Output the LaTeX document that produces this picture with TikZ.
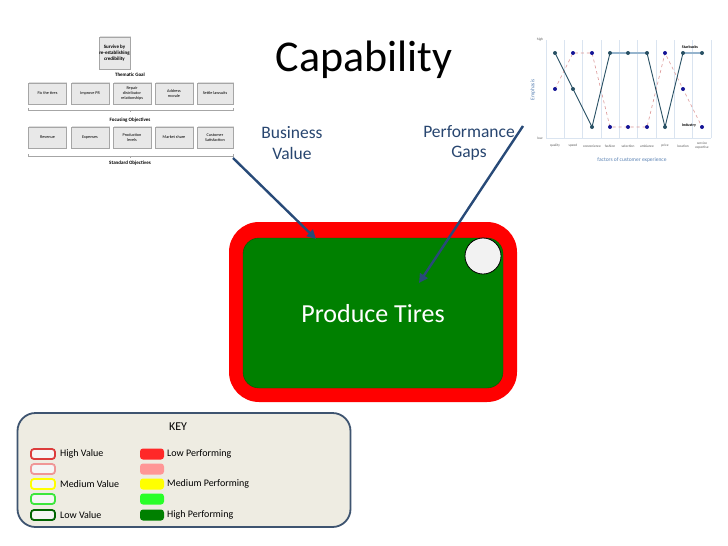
\documentclass[tikz,border=0pt]{standalone}
\usepackage{fontspec}
\setmainfont{Carlito}
\usetikzlibrary{arrows.meta,shadows}
\definecolor{arrowblue}{RGB}{40,74,120}
\definecolor{textblue}{RGB}{40,70,112}
\definecolor{keyfill}{RGB}{238,236,226}
\definecolor{keyborder}{RGB}{62,84,112}
\definecolor{dgreen}{RGB}{0,128,0}
\definecolor{chartblue}{RGB}{90,130,180}
\definecolor{gridc}{RGB}{218,228,240}
\definecolor{hlc}{RGB}{150,180,205}
\definecolor{sbline}{RGB}{40,80,100}
\definecolor{indline}{RGB}{220,150,150}
\definecolor{dotc}{RGB}{20,20,150}
\definecolor{vred}{RGB}{220,60,60}
\definecolor{vpink}{RGB}{240,150,150}
\definecolor{vyellow}{RGB}{255,255,0}
\definecolor{vlgreen}{RGB}{60,230,60}
\definecolor{vdgreen}{RGB}{0,100,0}
\definecolor{pred}{RGB}{255,40,40}
\definecolor{ppink}{RGB}{255,150,150}
\definecolor{pyellow}{RGB}{255,255,0}
\definecolor{plgreen}{RGB}{40,255,40}
\definecolor{pdgreen}{RGB}{0,128,0}
\tikzset{
  smallbox/.style={draw=gray!70, fill=gray!18, minimum width=38, minimum height=21, align=center,
    inner sep=0.5pt, font=\fontsize{4.2}{4.8}\selectfont, drop shadow={shadow xshift=0.8pt, shadow yshift=0.8pt, fill=gray!50}},
  smalllabel/.style={font=\bfseries\fontsize{5}{6}\selectfont},
  bigarrow/.style={draw=arrowblue, line width=2.4pt, -{Triangle[length=9pt,width=9pt]}},
  bluetext/.style={text=textblue, align=center, font=\fontsize{17.5}{20.5}\selectfont},
  vswatch/.style={draw=#1, line width=1.8pt, fill=gray!8, rounded corners=3pt, minimum width=24, minimum height=10, inner sep=0},
  pswatch/.style={fill=#1, rounded corners=3pt, minimum width=24, minimum height=11, inner sep=0},
  keytext/.style={anchor=west, font=\fontsize{10}{12}\selectfont, inner sep=0},
  catlabel/.style={font=\fontsize{3.5}{4}\selectfont, text=gray!70!black, align=center, inner sep=0},
  sbdot/.style={circle, fill=dotc, inner sep=0, minimum size=4},
}
\begin{document}
\begin{tikzpicture}[x=1pt,y=-1pt]
\useasboundingbox (0,0) rectangle (728,546);
\fill[white] (0,0) rectangle (728,546);

% Title
\node (title) at (364,60) {\fontsize{44}{48}\selectfont Capability};

% ---------- small goal diagram ----------
\node[smallbox, minimum width=31, minimum height=32, font=\bfseries\fontsize{5}{6}\selectfont] (goal) at (114.5,53) {Survive by\\re-establishing\\credibility};
\node[smalllabel] (thematic) at (130,75) {Thematic Goal};
\node[smallbox] (f1) at (47.5,93.5) {Fix the tires};
\node[smallbox] (f2) at (90,93.5) {Improve PR};
\node[smallbox] (f3) at (132,93.5) {Repair\\distributor\\relationships};
\node[smallbox] (f4) at (174,93.5) {Address\\morale};
\node[smallbox, minimum width=36] (f5) at (215,93.5) {Settle lawsuits};
\draw[gray!70, line width=0.4pt] (28,108) -- (28,110) -- (233,110) -- (233,108);
\draw[gray!70, line width=0.4pt] (130,110) -- (130,112);
\node[smalllabel] (focus) at (130,120) {Focusing Objectives};
\node[smallbox] (s1) at (47.5,137.5) {Revenue};
\node[smallbox] (s2) at (90,137.5) {Expenses};
\node[smallbox] (s3) at (132,137.5) {Production\\levels};
\node[smallbox] (s4) at (174,137.5) {Market share};
\node[smallbox, minimum width=36] (s5) at (215,137.5) {Customer\\Satisfaction};
\draw[gray!70, line width=0.4pt] (28,154) -- (28,156) -- (233,156) -- (233,154);
\draw[gray!70, line width=0.4pt] (130,156) -- (130,158);
\node[smalllabel] (standard) at (130,163) {Standard Objectives};

% ---------- chart ----------
\draw[gridc, line width=0.5pt] (546,40) -- (546,138) -- (711,138);
\foreach \x in {564,582,601,619,637,656,674,692,711}
  \draw[gridc, line width=0.4pt] (\x,40) -- (\x,138);
\node[catlabel] (hi) at (540,40) {high};
\node[catlabel] (lo) at (540,138) {low};
\node[catlabel, rotate=90, text=chartblue, font=\fontsize{5.5}{6}\selectfont] (ylab) at (533,90) {Emphasis};
\node[catlabel, text=chartblue, font=\fontsize{5.5}{6}\selectfont] (xlab) at (632,160) {factors of customer experience};
\foreach \x/\t in {555/quality,573/speed,592/convenience,610/fashion,628/selection,647/ambiance,665/price,683/location}
  \node[catlabel] at (\x,146) {\t};
\node[catlabel] (cat9) at (702,146) {service\\expertise};
% Industry
\draw[indline, dashed, line width=0.6pt] (555,89) -- (573,53) -- (592,53) -- (610,127) -- (628,127) -- (647,127) -- (665,53) -- (683,89) -- (702,127);
% Starbucks
\draw[sbline, line width=0.9pt] (555,53) -- (573,89) -- (592,127) -- (610,53) -- (628,53) -- (647,53) -- (665,127) -- (683,53) -- (702,53);
\draw[hlc, line width=1.6pt] (610,53) -- (647,53);
\draw[hlc, line width=1.6pt] (683,53) -- (702,53);
\foreach \x/\y in {555/89,573/53,592/53,610/127,628/127,647/127,665/53,683/89,702/127}
  \node[sbdot] at (\x,\y) {};
\foreach \x/\y in {555/53,573/89,592/127,610/53,628/53,647/53,665/127,683/53,702/53}
  \node[sbdot, fill=sbline] at (\x,\y) {};
\node[font=\bfseries\fontsize{4}{5}\selectfont, inner sep=0] (sblab) at (690,47) {Starbucks};
\node[font=\bfseries\fontsize{4}{5}\selectfont, inner sep=0] (indlab) at (689,125) {Industry};

% ---------- main capability ----------
\node[fill=red, rounded corners=30pt, minimum width=288, minimum height=180, inner sep=0] (outer) at (373,312) {};
\node[fill=dgreen, draw=dgreen!70!black, line width=0.4pt, rounded corners=16pt, minimum width=260, minimum height=150, inner sep=0] (inner) at (373,313) {};
\node[text=white, font=\fontsize{26}{30}\selectfont] (ptires) at (373,314) {Produce Tires};
\node[circle, draw=black, line width=0.8pt, fill=gray!10, minimum size=36, inner sep=0] (dot) at (483,256) {};

\node[bluetext] (bv) at (292,143) {Business\\Value};
\node[bluetext] (pg) at (469,143) {Performance\\Gaps};

\coordinate (bvs) at (233,158);
\coordinate (bve) at (316,239);
\coordinate (pgs) at (523,126);
\coordinate (pge) at (419,283);
\draw[bigarrow] (bvs) -- (bve);
\draw[bigarrow] (pgs) -- (pge);

% ---------- key ----------
\node[draw=keyborder, line width=1.8pt, fill=keyfill, rounded corners=18pt, minimum width=333, minimum height=114, inner sep=0] (key) at (184,470) {};
\node[font=\fontsize{12}{14}\selectfont] (keyt) at (178,427) {KEY};
\node[vswatch=vred] (v1) at (43,454) {};
\node[vswatch=vpink] (v2) at (43,469) {};
\node[vswatch=vyellow] (v3) at (43,484) {};
\node[vswatch=vlgreen] (v4) at (43,499) {};
\node[vswatch=vdgreen] (v5) at (43,515) {};
\node[pswatch=pred] (p1) at (152,454) {};
\node[pswatch=ppink] (p2) at (152,469) {};
\node[pswatch=pyellow] (p3) at (152,484) {};
\node[pswatch=plgreen] (p4) at (152,499) {};
\node[pswatch=pdgreen] (p5) at (152,515) {};
\node[keytext] (hv) at (60,454) {High Value};
\node[keytext] (mv) at (60,484) {Medium Value};
\node[keytext] (lv) at (60,515) {Low Value};
\node[keytext] (lp) at (167,454) {Low Performing};
\node[keytext] (mp) at (167,484) {Medium Performing};
\node[keytext] (hp) at (167,515) {High Performing};
\end{tikzpicture}
\end{document}
